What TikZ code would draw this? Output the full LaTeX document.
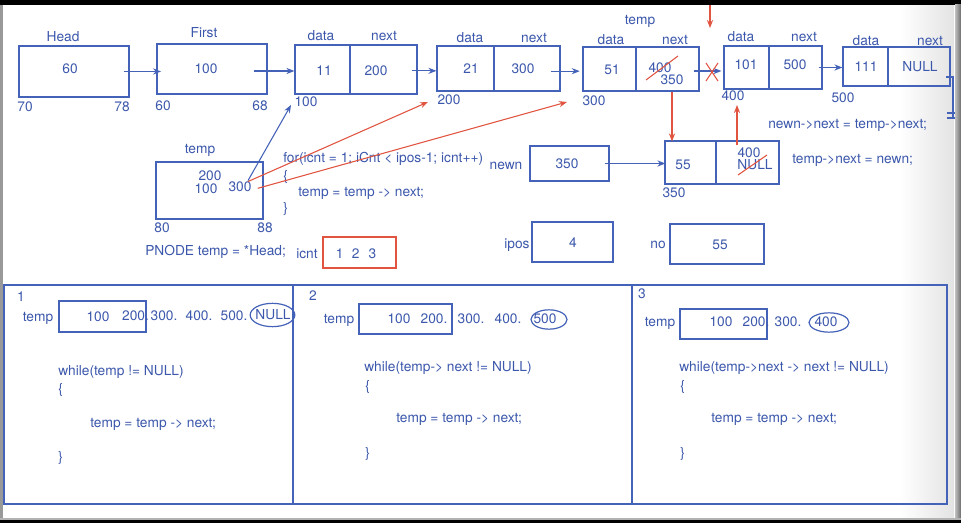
\documentclass[tikz,border=0pt]{standalone}
\usepackage{fontspec}
\setmainfont{TeX Gyre Heros}
\usetikzlibrary{arrows.meta,fit,shapes.geometric}
\definecolor{ink}{RGB}{60,88,172}
\definecolor{pen}{RGB}{68,98,184}
\definecolor{redpen}{RGB}{224,84,64}
\begin{document}
\begin{tikzpicture}[x=0.75pt,y=-0.75pt,
  box/.style={draw=pen,line width=0.9pt,inner sep=0pt},
  redbox/.style={draw=redpen,line width=0.9pt,inner sep=0pt},
  lbl/.style={text=ink,inner sep=0pt,text height=7.2pt,text depth=0pt,
    font=\fontsize{10.3pt}{12pt}\selectfont},
  code/.style={lbl,anchor=west},
  link/.style={draw=pen,line width=0.8pt,-{Stealth[length=6pt,width=4.6pt]}},
  redlink/.style={draw=redpen,line width=0.8pt,-{Stealth[length=6pt,width=4.6pt]}},
  strike/.style={draw=redpen,line width=0.8pt},
  ring/.style={draw=pen,line width=0.9pt,ellipse,inner sep=0pt}]

% page and window frame
\useasboundingbox (0,0) rectangle (961,523);
\fill[white] (0,0) rectangle (961,523);
\shade[left color=white,right color=gray!22] (900,5) rectangle (954,518);

% ---------------- linked list, top row ----------------
\node[box,fit={(19,46)(129,97)}] (head) {};
\node[box,fit={(157,44)(267,94)}] (first) {};
\node[box,fit={(295,45)(417,94)}] (n100) {};
\node[box,fit={(437,46)(560,91)}] (n200) {};
\node[box,fit={(583,47)(699,91)}] (n300) {};
\node[box,fit={(724,46)(822,89)}] (n400) {};
\node[box,fit={(843,47)(950,86)}] (n500) {};
\draw[pen,line width=0.9pt] (350,45) -- (350,94);
\draw[pen,line width=0.9pt] (494,46) -- (494,91);
\draw[pen,line width=0.9pt] (636,47) -- (636,91);
\draw[pen,line width=0.9pt] (769,46) -- (769,89);
\draw[pen,line width=0.9pt] (888,47) -- (888,86);

\node[lbl] at (63,37) {Head};
\node[lbl] at (70,69) {60};
\node[lbl] at (25,107) {70};
\node[lbl] at (122,107) {78};

\node[lbl] at (204,33) {First};
\node[lbl] at (206,69) {100};
\node[lbl] at (163,106) {60};
\node[lbl] at (260,106) {68};

\node[lbl] at (321,36) {data};
\node[lbl] at (384,36) {next};
\node[lbl] at (324,71) {11};
\node[lbl] at (376,71) {200};
\node[lbl] at (306,102) {100};

\node[lbl] at (470,38) {data};
\node[lbl] at (534,38) {next};
\node[lbl] at (471,69) {21};
\node[lbl] at (523,69) {300};
\node[lbl] at (449,100) {200};

\node[lbl] at (640,20) {temp};
\node[lbl] at (611,40) {data};
\node[lbl] at (675,40) {next};
\node[lbl] at (612,70) {51};
\node[lbl] at (660,68) {400};
\node[lbl] at (672,80) {350};
\node[lbl] at (594,101) {300};

\node[lbl] at (741,37) {data};
\node[lbl] at (804,37) {next};
\node[lbl] at (746,65) {101};
\node[lbl] at (795,65) {500};
\node[lbl] at (733,96) {400};

\node[lbl] at (866,41) {data};
\node[lbl] at (930,41) {next};
\node[lbl] at (866,67) {111};
\node[lbl] at (920,67) {NULL};
\node[lbl] at (843,98) {500};

% links between the list nodes
\draw[link] ([xshift=-4.5pt]head.east) -- ([xshift=3.5pt]head.east -| first.west);
\draw[link] ([xshift=-10.5pt,yshift=-1.5pt]first.east) -- ([yshift=-1.5pt]first.east -| n100.west);
\draw[link] ([xshift=-4.5pt,yshift=-1pt]n100.east) -- ([yshift=-1pt]n100.east -| n200.west);
\draw[link] ([xshift=-7.5pt,yshift=-2pt]n200.east) -- ([xshift=-2pt,yshift=-2pt]n200.east -| n300.west);
\draw[link] ([xshift=-4.5pt,yshift=-1.5pt]n300.east) -- ([xshift=-1.5pt,yshift=-1.5pt]n300.east -| n400.west);
\draw[link] ([xshift=-3pt]n400.east) -- (n400.east -| n500.west);

% end of list: ground mark
\draw[pen,line width=0.9pt] (946,77) -- (953,77) -- (953,118);
\draw[pen,line width=0.9pt] (947,113) -- (959,113);
\draw[pen,line width=0.9pt] (947,118) -- (959,118);

% edits made while inserting
\draw[strike] (646,80) -- (678,56);
\draw[strike] (706,63) -- (718,81);
\draw[strike] (718,63) -- (706,81);
\coordinate (topin) at (710,5);
\coordinate (gap) at (710,28);
\draw[redlink] (topin) -- (gap);

% ---------------- temp pointer and loop ----------------
\node[box,fit={(156,162)(263,219)}] (tempbox) {};
\node[lbl] at (200,149) {temp};
\node[lbl] at (210,176) {200};
\node[lbl] at (206,189) {100};
\node[lbl] (tv300) at (240,187) {300};
\node[lbl] at (162,228) {80};
\node[lbl] at (265,228) {88};
\node[code] at (145,251) {PNODE temp = *Head;};

\node[lbl] at (307,254) {icnt};
\node[redbox,fit={(323,237)(396,268)}] (icntbox) {};
\node[lbl] at (356,254) {1\hspace{6.3pt}2\hspace{6.8pt}3};

\node[code] at (283,158) {for(icnt = 1; iCnt < ipos-1; icnt++)};
\node[code] at (283,176) {\{};
\node[code] at (298,192) {temp = temp -> next;};
\node[code] at (283,208) {\}};

\coordinate (at100) at (291,105);
\coordinate (at200) at (428,102);
\coordinate (at300) at (567,102);
\draw[link] ([xshift=6pt,yshift=1pt]tv300.north) -- (at100);
\draw[redlink] ([xshift=6pt,yshift=0.3pt]tv300.north) -- (at200);
\draw[redlink] ([xshift=4.5pt,yshift=-1pt]tv300.east) -- (at300);

% ---------------- new node ----------------
\node[lbl] at (506,165) {newn};
\node[box,fit={(530,146)(609,181)}] (newn) {};
\node[lbl] at (567,164) {350};
\node[box,fit={(665,141)(779,184)}] (n350) {};
\draw[pen,line width=0.9pt] (716,141) -- (716,184);
\node[lbl] at (683,165) {55};
\node[lbl] at (749,153) {400};
\node[lbl] at (755,165) {NULL};
\node[lbl] at (674,193) {350};
\draw[strike] (738,175) -- (767,155);
\draw[link] ([xshift=-3.75pt]newn.east) -- ([xshift=0.75pt]newn.east -| n350.west);

\coordinate (xdown) at (672,0);
\coordinate (xup) at (737,0);
\coordinate (at400) at (737,105);
\draw[redlink] (n300.south -| xdown) -- ([yshift=-0.75pt]n350.north -| xdown);
\draw[redlink] ([yshift=-3.5pt]n350.north -| xup) -- (at400);

\node[code] at (768,124) {newn->next = temp->next;};
\node[code] at (792,159) {temp->next = newn;};

\node[lbl] at (517,244) {ipos};
\node[box,fit={(532,222)(613,262)}] (ipos) {};
\node[lbl] at (573,243) {4};
\node[lbl] at (658,244) {no};
\node[box,fit={(670,224)(764,264)}] (no) {};
\node[lbl] at (720,245) {55};

% ---------------- three traversal panels ----------------
\node[box,fit={(4,285)(947,504)}] (panels) {};
\draw[pen,line width=0.9pt] (293,285) -- (293,504);
\draw[pen,line width=0.9pt] (632,285) -- (632,504);

% panel 1
\node[lbl] at (21,297) {1};
\node[lbl] at (38,317) {temp};
\node[box,fit={(59,301)(146,332)}] (t1) {};
\node[lbl] at (98,317) {100};
\node[lbl] at (135.5,316) {200.};
\node[lbl] at (164,316) {300.};
\node[lbl] at (199,316) {400.};
\node[lbl] at (234,316) {500.};
\node[ring,minimum width=33.5pt,minimum height=17.5pt] (e1) at (272.5,315) {};
\node[lbl] at (273,315) {NULL};
\node[code] at (58,371) {while(temp != NULL)};
\node[code] at (58,389) {\{};
\node[code] at (90,423) {temp = temp -> next;};
\node[code] at (58,457) {\}};

% panel 2
\node[lbl] at (313,296) {2};
\node[lbl] at (339,319) {temp};
\node[box,fit={(359,304)(452,334)}] (t2) {};
\node[lbl] at (399,319) {100};
\node[lbl] at (434,319) {200.};
\node[lbl] at (471,319) {300.};
\node[lbl] at (508,319) {400.};
\node[ring,minimum width=27pt,minimum height=14.5pt] (e2) at (549,319.5) {};
\node[lbl] at (545,319) {500};
\node[code] at (364,367) {while(temp-> next != NULL)};
\node[code] at (365,386) {\{};
\node[code] at (396,418) {temp = temp -> next;};
\node[code] at (365,453) {\}};

% panel 3
\node[lbl] at (642,294) {3};
\node[lbl] at (660,322) {temp};
\node[box,fit={(680,309)(767,339)}] (t3) {};
\node[lbl] at (721,322) {100};
\node[lbl] at (756,322) {200.};
\node[lbl] at (788,322) {300.};
\node[ring,minimum width=30pt,minimum height=14.5pt] (e3) at (829,322.5) {};
\node[lbl] at (826,322) {400};
\node[code] at (679,367) {while(temp->next -> next != NULL)};
\node[code] at (680,386) {\{};
\node[code] at (711,418) {temp = temp -> next;};
\node[code] at (680,453) {\}};

% window edges
\fill[black] (0,0) rectangle (961,5);
\fill[gray!60] (0,518) rectangle (961,520);
\fill[black] (0,520) rectangle (961,523);
\fill[gray!80] (0,5) rectangle (3,518);
\shade[left color=gray!50,right color=gray!85!black] (955,5) rectangle (961,518);
\end{tikzpicture}
\end{document}
